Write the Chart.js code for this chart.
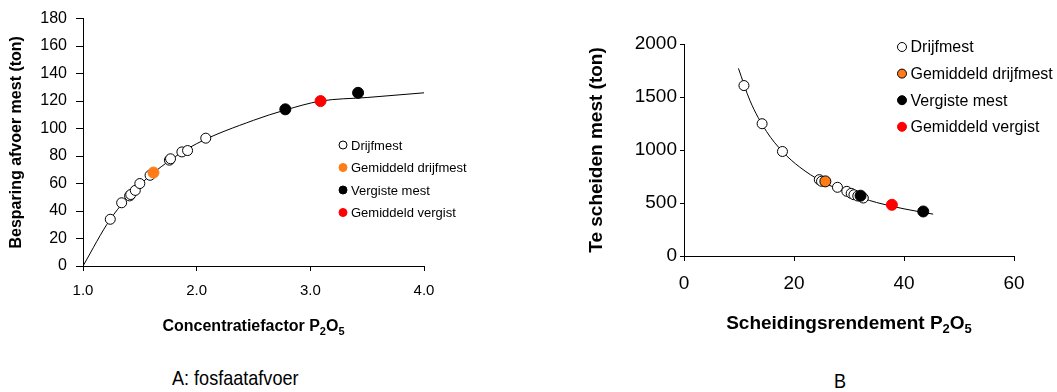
<!DOCTYPE html>
<html>
<head>
<meta charset="utf-8">
<script src="https://cdn.jsdelivr.net/npm/chart.js@4.4.1/dist/chart.umd.min.js"></script>
<style>
  html, body { margin: 0; padding: 0; background: #fff; }
  body { width: 1057px; height: 392px; position: relative; overflow: hidden; }
  .box { position: absolute; top: 0; height: 345px; }
  #boxA { left: 0; width: 540px; }
  #boxB { left: 560px; width: 497px; }
  .caption {
    position: absolute;
    font-family: "Liberation Sans", Arial, sans-serif;
    font-size: 21px;
    color: #000;
    transform: scaleX(0.86);
    transform-origin: left center;
    white-space: nowrap;
  }
</style>
</head>
<body>
<div class="box" id="boxA"><canvas id="chartA" width="540" height="345"></canvas></div>
<div class="box" id="boxB"><canvas id="chartB" width="497" height="345"></canvas></div>
<div class="caption" style="left:172px; top:366px;">A: fosfaatafvoer</div>
<div class="caption" style="left:834px; top:369px;">B</div>

<script>
// Panel A: concentratiefactor vs besparing afvoer mest
const drijfA_x = [1.24, 1.34, 1.41, 1.42, 1.46, 1.50, 1.59, 1.76, 1.77, 1.87, 1.92, 2.08];
const drijfA_y = [34, 46, 51, 52, 55, 60, 66, 77, 78, 83, 84, 93];
const gemDrijfA_x = [1.62];
const gemDrijfA_y = [68];
const vergistA_x = [2.78, 3.42];
const vergistA_y = [114, 126];
const gemVergistA_x = [3.09];
const gemVergistA_y = [120];
const curveA_x = [1.0, 1.24, 1.5, 1.75, 2.0, 2.5, 2.78, 3.09, 3.5, 4.0];
const curveA_y = [0, 34, 59, 76, 89, 106, 113.5, 120, 122.6, 126];

// Panel B: scheidingsrendement vs te scheiden mest
const drijfB_x = [10.9, 14.2, 17.9, 24.6, 25.0, 27.9, 29.6, 30.4, 30.9, 31.6, 32.6];
const drijfB_y = [1608, 1248, 986, 720, 705, 648, 610, 591, 578, 566, 547];
const gemDrijfB_x = [25.7];
const gemDrijfB_y = [704];
const vergistB_x = [32.1, 43.5];
const vergistB_y = [569, 420];
const gemVergistB_x = [37.8];
const gemVergistB_y = [483];
const curveB_x = [9.9, 12, 15, 18, 21, 25, 30, 35, 40, 45.3];
const curveB_y = [1770, 1465, 1175, 980, 840, 705, 590, 505, 445, 395];

const seriesNames = ['Drijfmest', 'Gemiddeld drijfmest', 'Vergiste mest', 'Gemiddeld vergist'];

const FONT = '"Liberation Sans", Arial, sans-serif';
Chart.defaults.font.family = FONT;
Chart.defaults.color = '#000';

function pts(xs, ys) {
    return xs.map((x, i) => ({ x: x, y: ys[i] }));
}

// Legend drawn inside the plot area, one row per marker series
const insideLegend = {
    id: 'insideLegend',
    afterDatasetsDraw(chart, args, opts) {
        const ctx = chart.ctx;
        ctx.save();
        ctx.font = opts.size + 'px ' + FONT;
        ctx.textBaseline = 'middle';
        opts.items.forEach((idx, i) => {
            const ds = chart.data.datasets[idx];
            const y = opts.y + i * opts.gap;
            ctx.beginPath();
            ctx.arc(opts.x, y, opts.r, 0, Math.PI * 2);
            ctx.fillStyle = ds.backgroundColor;
            ctx.fill();
            ctx.lineWidth = 1;
            ctx.strokeStyle = ds.borderColor;
            ctx.stroke();
            ctx.fillStyle = '#000';
            ctx.fillText(ds.label, opts.x + opts.r + 4, y + 1);
        });
        ctx.restore();
    }
};

// X-axis title with real subscripts (P2O5), centred under the plot area
const subTitle = {
    id: 'subTitle',
    afterDraw(chart, args, opts) {
        const ctx = chart.ctx;
        const big = 'bold ' + opts.size + 'px ' + FONT;
        const small = 'bold ' + Math.round(opts.size * 0.68) + 'px ' + FONT;
        ctx.save();
        ctx.textBaseline = 'alphabetic';
        ctx.fillStyle = '#000';
        let total = 0;
        opts.parts.forEach(p => {
            ctx.font = p[1] ? small : big;
            total += ctx.measureText(p[0]).width;
        });
        const area = chart.chartArea;
        let x = (area.left + area.right) / 2 - total / 2;
        opts.parts.forEach(p => {
            ctx.font = p[1] ? small : big;
            ctx.fillText(p[0], x, opts.y + (p[1] ? opts.size * 0.22 : 0));
            x += ctx.measureText(p[0]).width;
        });
        ctx.restore();
    }
};

// Higher order is drawn first: curve, then open circles, then filled markers on top
function markerSets(d, orangeBorder, r) {
    return [
        { label: seriesNames[0], data: d[0], backgroundColor: '#fff', borderColor: '#000', borderWidth: 1, pointRadius: r, order: 2 },
        { label: seriesNames[1], data: d[1], backgroundColor: '#ff7b17', borderColor: orangeBorder, borderWidth: 1, pointRadius: r + 0.5, order: 1 },
        { label: seriesNames[2], data: d[2], backgroundColor: '#000', borderColor: '#000', borderWidth: 1, pointRadius: r + 0.5, order: 1 },
        { label: seriesNames[3], data: d[3], backgroundColor: '#ff0000', borderColor: '#ff0000', borderWidth: 1, pointRadius: r + 0.5, order: 1 }
    ];
}

function curveSet(data) {
    return {
        label: 'curve', data: data, showLine: true, pointRadius: 0,
        borderColor: '#000', borderWidth: 1, backgroundColor: '#000',
        cubicInterpolationMode: 'monotone', order: 5
    };
}

function axisBase(o) {
    return {
        type: 'linear',
        min: o.min, max: o.max,
        border: { display: true, color: '#000', width: 1 },
        grid: { drawOnChartArea: false, drawTicks: true, tickLength: o.tickLength, color: '#000' },
        ticks: {
            stepSize: o.step,
            padding: o.pad,
            font: { size: o.size },
            color: '#000',
            maxRotation: 0,
            autoSkip: false,
            callback: o.format || (v => v)
        },
        title: {
            display: !!o.title, text: o.title, color: '#000',
            font: { size: o.titleSize, weight: 'bold' },
            padding: o.titlePad
        },
        afterFit: o.fit
    };
}

function makeChart(id, datasets, layoutPad, xOpts, yOpts, legendOpts, titleOpts) {
    return new Chart(document.getElementById(id), {
        type: 'scatter',
        data: { datasets: datasets },
        options: {
            responsive: false,
            animation: false,
            layout: { padding: layoutPad },
            plugins: {
                legend: { display: false },
                tooltip: { enabled: false },
                insideLegend: legendOpts,
                subTitle: titleOpts
            },
            scales: { x: axisBase(xOpts), y: axisBase(yOpts) }
        },
        plugins: [insideLegend, subTitle]
    });
}

makeChart('chartA',
    [
        ...markerSets([pts(drijfA_x, drijfA_y), pts(gemDrijfA_x, gemDrijfA_y), pts(vergistA_x, vergistA_y), pts(gemVergistA_x, gemVergistA_y)], '#ff7b17', 5),
        curveSet(pts(curveA_x, curveA_y))
    ],
    { top: 14, right: 116, bottom: 0, left: 0 },
    {
        min: 1, max: 4, step: 1, pad: 11, size: 15, tickLength: 5,
        format: v => v.toFixed(1),
        fit: s => { s.height = 79; }
    },
    {
        min: 0, max: 180, step: 20, pad: 9, size: 16, tickLength: 7,
        title: 'Besparing afvoer mest (ton)', titleSize: 16, titlePad: { top: 7, bottom: 0 },
        fit: s => { s.width = 83; }
    },
    { items: [0, 1, 2, 3], x: 343, y: 145, gap: 22.5, r: 4, size: 13 },
    { parts: [['Concentratiefactor P', false], ['2', true], ['O', false], ['5', true]], size: 16, y: 331 }
);

makeChart('chartB',
    [
        ...markerSets([pts(drijfB_x, drijfB_y), pts(gemDrijfB_x, gemDrijfB_y), pts(vergistB_x, vergistB_y), pts(gemVergistB_x, gemVergistB_y)], '#000', 5),
        curveSet(pts(curveB_x, curveB_y))
    ],
    { top: 44, right: 43, bottom: 0, left: 0 },
    {
        min: 0, max: 60, step: 20, pad: 11, size: 19, tickLength: 5,
        fit: s => { s.height = 89; }
    },
    {
        min: 0, max: 2000, step: 500, pad: 3, size: 19, tickLength: 4,
        title: 'Te scheiden mest (ton)', titleSize: 19, titlePad: { top: 25, bottom: 0 },
        fit: s => { s.width = 124; }
    },
    { items: [0, 1, 2, 3], x: 342, y: 47, gap: 26.6, r: 4.5, size: 16 },
    { parts: [['Scheidingsrendement P', false], ['2', true], ['O', false], ['5', true]], size: 19, y: 329 }
);
</script>
</body>
</html>
